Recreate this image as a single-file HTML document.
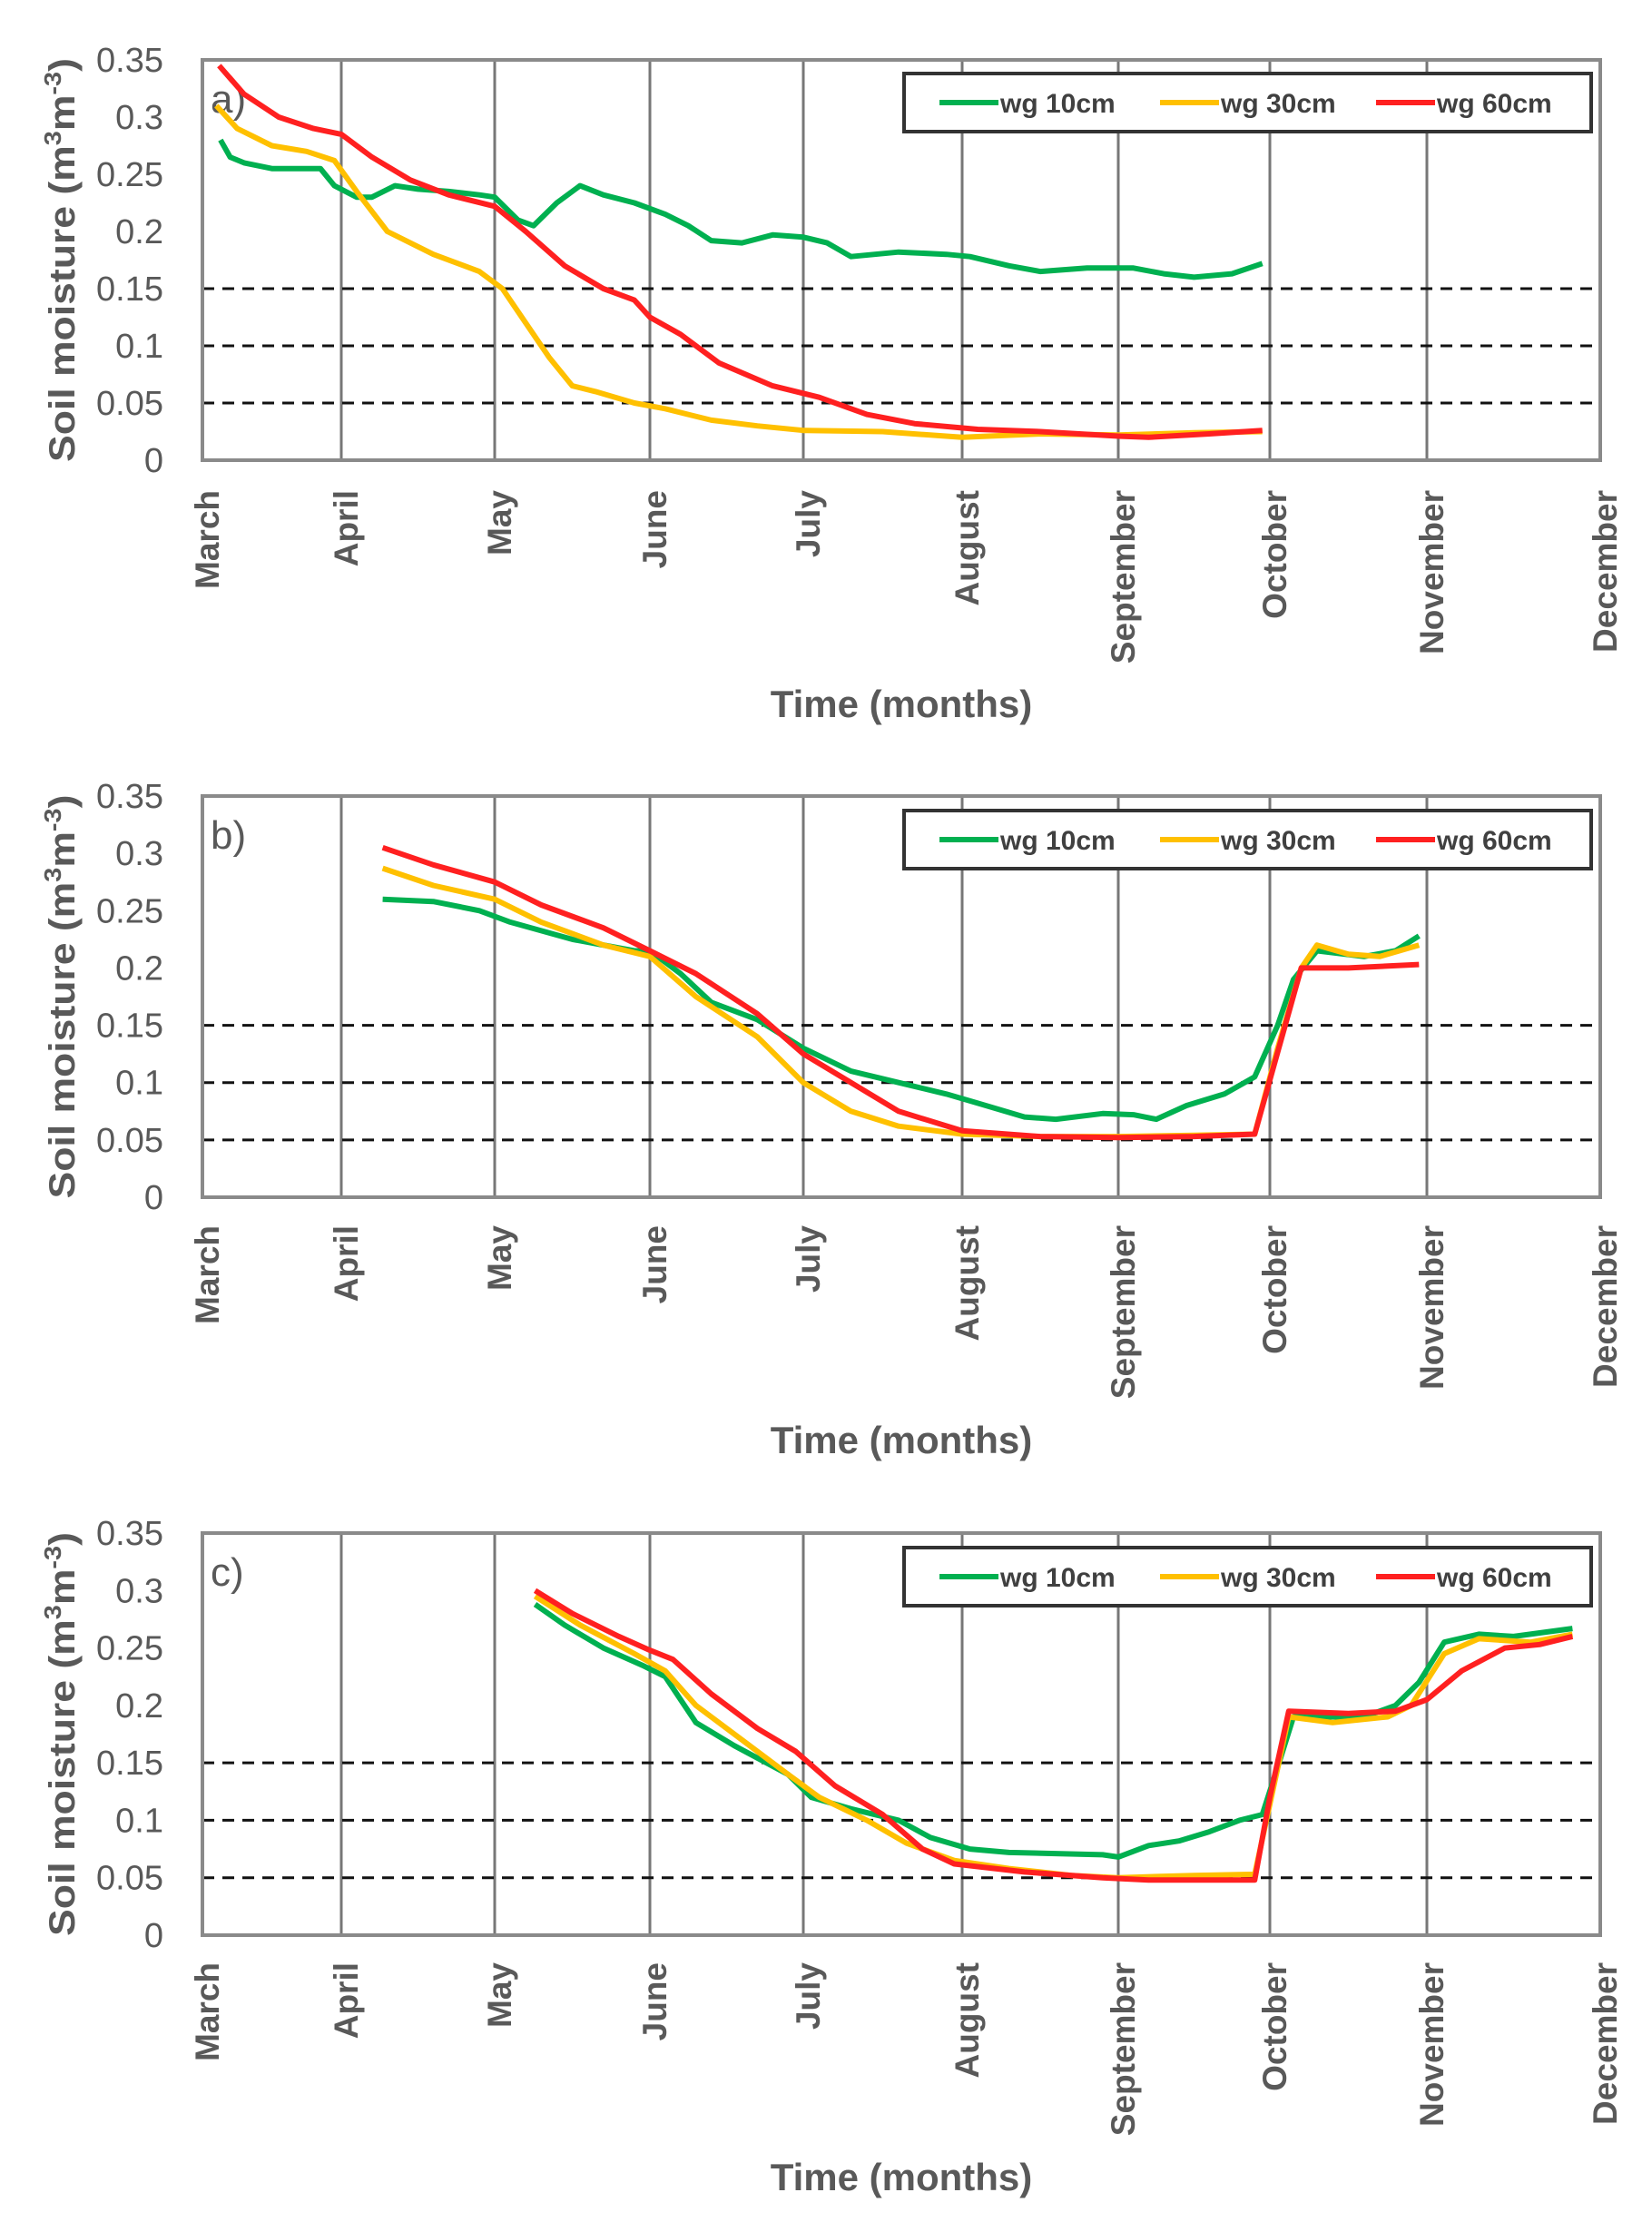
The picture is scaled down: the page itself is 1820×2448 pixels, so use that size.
<!DOCTYPE html>
<html><head><meta charset="utf-8"><style>
html,body{margin:0;padding:0;background:#fff;}
svg{display:block;font-family:"Liberation Sans",sans-serif;}
</style></head><body>
<svg id="chart" width="1820" height="2448" viewBox="0 0 1820 2448" xmlns="http://www.w3.org/2000/svg"></svg>
<script>
const months = ["March","April","May","June","July","August","September","October","November","December"];
const yTicks = [0,0.05,0.1,0.15,0.2,0.25,0.3,0.35];
const yTickLabels = ["0","0.05","0.1","0.15","0.2","0.25","0.3","0.35"];
const thresholds = [0.05,0.1,0.15];
const seriesNames = ["wg 10cm","wg 30cm","wg 60cm"];
const panelLabels = ["a)","b)","c)"];

// panel a (x = months since 1 March)
const aGreenX = [0.13,0.2,0.3,0.5,0.7,0.85,0.95,1.1,1.2,1.35,1.5,1.7,1.9,2.0,2.15,2.25,2.4,2.55,2.7,2.9,3.1,3.25,3.4,3.6,3.8,4.0,4.15,4.3,4.6,4.9,5.05,5.3,5.5,5.8,6.1,6.3,6.5,6.75,6.95];
const aGreenY = [0.28,0.265,0.26,0.255,0.255,0.255,0.24,0.23,0.23,0.24,0.237,0.235,0.232,0.23,0.21,0.205,0.225,0.24,0.232,0.225,0.215,0.205,0.192,0.19,0.197,0.195,0.19,0.178,0.182,0.18,0.178,0.17,0.165,0.168,0.168,0.163,0.16,0.163,0.172];
const aYellowX = [0.1,0.25,0.5,0.75,0.95,1.1,1.3,1.6,1.9,2.05,2.2,2.35,2.5,2.65,2.9,3.1,3.4,3.7,4.0,4.5,5.0,5.5,6.0,6.5,6.95];
const aYellowY = [0.31,0.29,0.275,0.27,0.262,0.235,0.2,0.18,0.165,0.15,0.12,0.09,0.065,0.06,0.05,0.045,0.035,0.03,0.026,0.025,0.02,0.023,0.022,0.024,0.025];
const aRedX = [0.12,0.3,0.55,0.8,1.0,1.2,1.45,1.7,2.0,2.2,2.45,2.7,2.9,3.0,3.2,3.45,3.8,4.1,4.4,4.7,5.1,5.5,6.0,6.2,6.6,6.95];
const aRedY = [0.345,0.32,0.3,0.29,0.285,0.265,0.245,0.232,0.222,0.2,0.17,0.15,0.14,0.125,0.11,0.085,0.065,0.055,0.04,0.032,0.027,0.025,0.021,0.02,0.023,0.026];

// panel b
const bGreenX = [1.27,1.6,1.9,2.1,2.5,2.9,3.0,3.2,3.4,3.7,4.0,4.3,4.6,4.9,5.1,5.4,5.6,5.9,6.1,6.25,6.45,6.7,6.9,7.05,7.15,7.3,7.6,7.8,7.95];
const bGreenY = [0.26,0.258,0.25,0.24,0.225,0.215,0.215,0.195,0.17,0.155,0.13,0.11,0.1,0.09,0.082,0.07,0.068,0.073,0.072,0.068,0.08,0.09,0.105,0.15,0.19,0.215,0.21,0.215,0.228];
const bYellowX = [1.27,1.6,2.0,2.3,2.7,3.0,3.3,3.7,4.0,4.3,4.6,5.0,5.5,6.0,6.5,6.9,7.05,7.2,7.3,7.5,7.7,7.95];
const bYellowY = [0.287,0.272,0.26,0.24,0.22,0.21,0.175,0.14,0.1,0.075,0.062,0.055,0.053,0.053,0.054,0.055,0.13,0.2,0.22,0.212,0.21,0.22];
const bRedX = [1.27,1.6,2.0,2.3,2.7,3.0,3.3,3.7,4.0,4.3,4.6,5.0,5.5,6.0,6.5,6.9,7.2,7.5,7.95];
const bRedY = [0.305,0.29,0.275,0.255,0.235,0.215,0.195,0.16,0.125,0.1,0.075,0.058,0.053,0.052,0.053,0.055,0.2,0.2,0.203];

// panel c
const cGreenX = [2.26,2.45,2.7,2.95,3.1,3.3,3.55,3.9,4.05,4.3,4.6,4.8,5.05,5.3,5.6,5.9,6.0,6.2,6.4,6.6,6.8,6.95,7.07,7.15,7.3,7.6,7.8,7.95,8.1,8.3,8.5,8.84];
const cGreenY = [0.288,0.27,0.25,0.235,0.225,0.185,0.165,0.14,0.12,0.11,0.1,0.085,0.075,0.072,0.071,0.07,0.068,0.078,0.082,0.09,0.1,0.105,0.155,0.19,0.19,0.19,0.2,0.22,0.255,0.262,0.26,0.267];
const cYellowX = [2.26,2.55,2.9,3.1,3.3,3.6,3.9,4.1,4.4,4.65,4.95,5.3,5.7,6.0,6.5,6.9,7.12,7.4,7.75,7.9,8.1,8.3,8.6,8.84];
const cYellowY = [0.295,0.27,0.245,0.23,0.2,0.17,0.14,0.12,0.1,0.08,0.065,0.058,0.052,0.05,0.052,0.053,0.19,0.185,0.19,0.2,0.245,0.258,0.255,0.262];
const cRedX = [2.26,2.5,2.8,3.0,3.15,3.4,3.7,3.95,4.2,4.5,4.75,4.95,5.4,5.9,6.2,6.9,7.0,7.12,7.5,7.8,8.0,8.2,8.45,8.65,8.84];
const cRedY = [0.3,0.28,0.26,0.248,0.24,0.21,0.18,0.16,0.13,0.105,0.075,0.062,0.055,0.05,0.048,0.048,0.12,0.195,0.193,0.195,0.205,0.23,0.25,0.253,0.26];

const NS = "http://www.w3.org/2000/svg";
const svg = document.getElementById("chart");
const gridPx = [223,376,545,716,885,1060,1232,1399,1572,1763];
const colors = ["#00b050","#ffc000","#ff2020"];
const panels = [
  {top:66,bottom:507,legTop:81,monthTop:540,titleY:790,series:[[aGreenX,aGreenY],[aYellowX,aYellowY],[aRedX,aRedY]]},
  {top:877,bottom:1319,legTop:893,monthTop:1350,titleY:1601,series:[[bGreenX,bGreenY],[bYellowX,bYellowY],[bRedX,bRedY]]},
  {top:1689,bottom:2132,legTop:1705,monthTop:2162,titleY:2413,series:[[cGreenX,cGreenY],[cYellowX,cYellowY],[cRedX,cRedY]]}
];
function xScale(m){const i=Math.max(0,Math.min(8,Math.floor(m)));return gridPx[i]+(m-i)*(gridPx[i+1]-gridPx[i]);}
function mk(tag,attrs,parent){const e=document.createElementNS(NS,tag);for(const k in attrs)e.setAttribute(k,attrs[k]);(parent||svg).appendChild(e);return e;}

panels.forEach((p,pi)=>{
  const yScale=v=>p.bottom-(v/0.35)*(p.bottom-p.top);
  const g=mk("g",{});
  
  
  mk("rect",{x:223,y:p.top,width:1540,height:p.bottom-p.top,fill:"#fff"},g);
  for(let i=1;i<9;i++){
    const l=mk("line",{x1:gridPx[i],x2:gridPx[i],y1:p.top,y2:p.bottom,stroke:"#777","stroke-width":3},g);
    
    
  }
  thresholds.forEach(t=>{
    const l=mk("line",{x1:223,x2:1763,y1:yScale(t),y2:yScale(t),stroke:"#111","stroke-width":3,"stroke-dasharray":"13 9"},g);
    
    
  });
  const fr=mk("rect",{x:223,y:p.top,width:1540,height:p.bottom-p.top,fill:"none",stroke:"#8a8a8a","stroke-width":4},g);
  
  
  yTicks.forEach((v,i)=>{
    const t=mk("text",{x:180,y:yScale(v)+13,"text-anchor":"end","font-size":38,fill:"#595959"},g);
    t.textContent=yTickLabels[i];
    
    
  });
  const yt=mk("text",{transform:`translate(82,${(p.top+p.bottom)/2}) rotate(-90)`,"text-anchor":"middle","font-size":40,"font-weight":"bold",fill:"#595959",textLength:445,lengthAdjust:"spacingAndGlyphs"},g);
  yt.innerHTML='Soil moisture (m<tspan baseline-shift="super" font-size="26">3</tspan>m<tspan baseline-shift="super" font-size="26">-3</tspan>)';
  
  
  months.forEach((m,i)=>{
    const x=gridPx[i]+18;
    const t=mk("text",{transform:`translate(${x},${p.monthTop}) rotate(-90)`,"text-anchor":"end","font-size":37,"font-weight":"bold",fill:"#595959"},g);
    t.textContent=m;
    
    
  });
  const xt=mk("text",{x:993,y:p.titleY,"text-anchor":"middle","font-size":42,"font-weight":"bold",fill:"#595959"},g);
  xt.textContent="Time (months)";
  
  
  const pl=mk("text",{x:232,y:p.top+58,"font-size":44,fill:"#595959"},g);
  pl.textContent=panelLabels[pi];
  
  
  p.series.forEach((s,si)=>{
    const pts=s[0].map((x,k)=>xScale(x).toFixed(1)+","+yScale(s[1][k]).toFixed(1)).join(" ");
    const pl2=mk("polyline",{points:pts,fill:"none",stroke:colors[si],"stroke-width":6,"stroke-linejoin":"round"},g);
    
    
  });
  const lg=mk("g",{},g);
  
  
  mk("rect",{x:996,y:p.legTop,width:757,height:64,fill:"#fff",stroke:"#333","stroke-width":4},lg);
  const lx=[1035,1278,1516];
  seriesNames.forEach((n,si)=>{
    const ln=mk("line",{x1:lx[si],x2:lx[si]+65,y1:p.legTop+32,y2:p.legTop+32,stroke:colors[si],"stroke-width":6},lg);
    
    
    const t=mk("text",{x:lx[si]+67,y:p.legTop+43,"font-size":30,"font-weight":"bold",fill:"#404040"},lg);
    t.textContent=n;
    
    
  });
});
</script>
</body></html>
